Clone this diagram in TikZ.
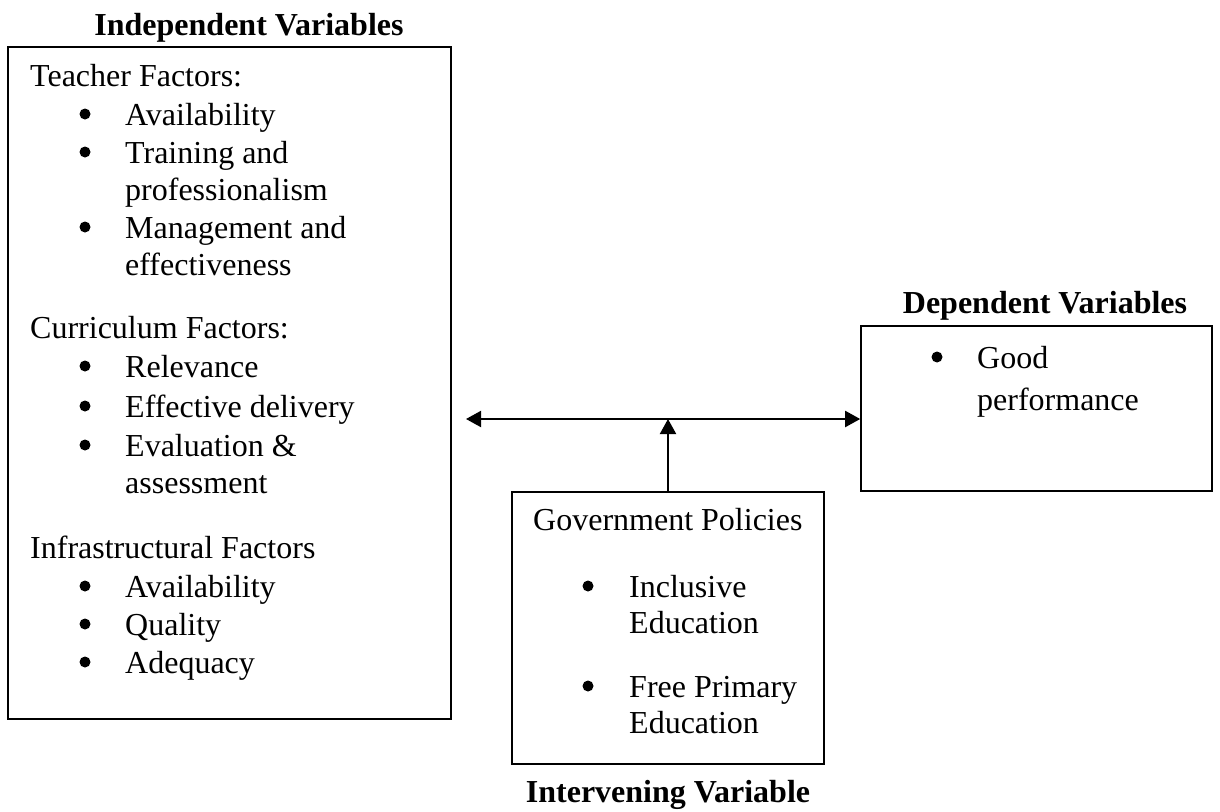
\documentclass[tikz,border=0pt]{standalone}
\usepackage{fontspec}
\setmainfont{Liberation Serif}
\usetikzlibrary{arrows.meta}
\begin{document}
\begin{tikzpicture}[x=1pt,y=-1pt,
  every node/.style={font=\fontsize{32}{38}\selectfont},
  box/.style={draw,line width=1.6pt,rectangle,inner sep=0},
  txt/.style={anchor=base west,inner sep=0},
  ttl/.style={anchor=base,inner sep=0,font=\fontsize{32}{38}\selectfont\bfseries},
  bul/.style={circle,fill,inner sep=0,minimum size=11,yshift=11pt},
  link/.style={line width=2pt,-{Triangle[length=15pt,width=16pt]}}]

\useasboundingbox (0,0) rectangle (1220,811);

% boxes
\node (indep) [box,minimum width=443,minimum height=672] at (229.5,383) {};
\node (dep) [box,minimum width=351,minimum height=165] at (1036.5,408.5) {};
\node (intv) [box,minimum width=312,minimum height=272] at (668,628) {};

% titles
\node (tindep) [ttl] at (249,35) {Independent Variables};
\node (tdep) [ttl] at (1045,313) {Dependent Variables};
\node (tintv) [ttl] at (668,802) {Intervening Variable};

% independent variables
\node (tf) [txt] at (30,86) {Teacher Factors:};
\node (b1) [bul] at (85,125) {};
\node (a1) [txt] at (125,125) {Availability};
\node (b2) [bul] at (85,163) {};
\node (a2) [txt] at (125,163) {Training and};
\node (a3) [txt] at (125,200) {professionalism};
\node (b3) [bul] at (85,238) {};
\node (a4) [txt] at (125,238) {Management and};
\node (a5) [txt] at (125,275) {effectiveness};

\node (cf) [txt] at (30,338) {Curriculum Factors:};
\node (b4) [bul] at (85,377) {};
\node (c1) [txt] at (125,377) {Relevance};
\node (b5) [bul] at (85,417) {};
\node (c2) [txt] at (125,417) {Effective delivery};
\node (b6) [bul] at (85,456) {};
\node (c3) [txt] at (125,456) {Evaluation \&};
\node (c4) [txt] at (125,493) {assessment};

\node (if) [txt] at (30,558) {Infrastructural Factors};
\node (b7) [bul] at (85,597) {};
\node (i1) [txt] at (125,597) {Availability};
\node (b8) [bul] at (85,635) {};
\node (i2) [txt] at (125,635) {Quality};
\node (b9) [bul] at (85,673) {};
\node (i3) [txt] at (125,673) {Adequacy};

% dependent variable
\node (b10) [bul] at (937,368) {};
\node (d1) [txt] at (977,368) {Good};
\node (d2) [txt] at (977,410) {performance};

% intervening variable
\node (gp) [txt] at (533,530) {Government Policies};
\node (b11) [bul] at (588,597) {};
\node (g1) [txt] at (629,597) {Inclusive};
\node (g2) [txt] at (629,633) {Education};
\node (b12) [bul] at (588,697) {};
\node (g3) [txt] at (629,697) {Free Primary};
\node (g4) [txt] at (629,733) {Education};

% arrows
\coordinate (lend) at (466,419);
\coordinate (mid) at (intv.north |- lend);
\draw [link] (mid) -- (lend);
\draw [link] (mid) -- (dep.west |- lend);
\draw [link] (intv.north) -- (mid);
\end{tikzpicture}
\end{document}
